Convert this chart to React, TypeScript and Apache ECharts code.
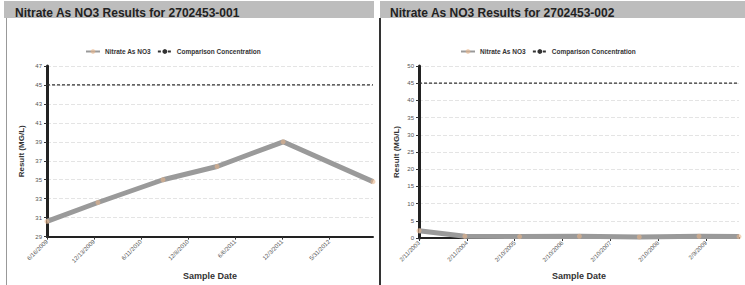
import React, { useEffect, useRef } from "react";
import * as echarts from "echarts";

const TITLE_LEFT = "Nitrate As NO3 Results for 2702453-001";
const TITLE_RIGHT = "Nitrate As NO3 Results for 2702453-002";
const SERIES_NAME = "Nitrate As NO3";
const COMPARE_NAME = "Comparison Concentration";
const COMPARISON_VALUE = 45;

const LEFT_DATES = ["2009-06-16", "2009-12-28", "2010-09-03", "2011-03-29", "2011-12-07", "2012-11-15"];
const LEFT_VALUES = [30.6, 32.6, 35.0, 36.4, 39.0, 34.8];
const LEFT_Y = { min: 29, max: 47, interval: 2 };
const LEFT_X_INTERVAL_DAYS = 180;

const RIGHT_DATES = ["2003-02-11", "2004-01-27", "2005-03-20", "2006-06-19", "2007-09-19", "2008-12-18", "2009-10-19"];
const RIGHT_VALUES = [2.1, 0.5, 0.4, 0.5, 0.3, 0.5, 0.4];
const RIGHT_Y = { min: 0, max: 50, interval: 5 };
const RIGHT_X_INTERVAL_DAYS = 365;

const DAY = 86400000;
const ts = (d: string) => Date.parse(d + "T00:00:00Z");
const fmtDate = (v: number) => {
  const d = new Date(v);
  return `${d.getUTCMonth() + 1}/${d.getUTCDate()}/${d.getUTCFullYear()}`;
};

const FONT = "Liberation Sans, Arial, sans-serif";

function xAxisFor(gridIndex: number, dates: string[], intervalDays: number) {
  return {
    type: "value",
    gridIndex,
    min: ts(dates[0]),
    max: ts(dates[dates.length - 1]),
    interval: intervalDays * DAY,
    name: "Sample Date",
    nameLocation: "middle",
    nameGap: 33,
    nameTextStyle: { fontFamily: FONT, fontWeight: "bold", fontSize: 9, color: "#333" },
    axisLine: { lineStyle: { color: "#222", width: 2 } },
    axisTick: { show: true, length: 3, lineStyle: { color: "#333" } },
    axisLabel: {
      rotate: 45,
      fontSize: 6,
      fontFamily: FONT,
      color: "#555",
      showMaxLabel: false,
      margin: 4,
      formatter: (v: number) => fmtDate(v),
    },
    splitLine: { show: false },
  };
}

function yAxisFor(gridIndex: number, cfg: { min: number; max: number; interval: number }, gap: number) {
  return {
    type: "value",
    gridIndex,
    min: cfg.min,
    max: cfg.max,
    interval: cfg.interval,
    name: "Result (MG/L)",
    nameLocation: "middle",
    nameGap: gap,
    nameTextStyle: { fontFamily: FONT, fontWeight: "bold", fontSize: 8, color: "#333" },
    axisLine: { show: true, lineStyle: { color: "#222", width: 3 } },
    axisTick: { show: true, length: 3, lineStyle: { color: "#333" } },
    axisLabel: { fontSize: 6, fontFamily: FONT, color: "#555", margin: 5 },
    splitLine: { show: true, lineStyle: { color: "#e4e4e4", type: "dashed", width: 1 } },
  };
}

export default function App() {
  const ref = useRef<HTMLDivElement>(null);
  useEffect(() => {
    if (!ref.current) return;
    const chart = echarts.init(ref.current, undefined, { renderer: "svg" });
    const lineSeries = (name: string, idx: number, dates: string[], values: number[]) => ({
      name,
      type: "line",
      xAxisIndex: idx,
      yAxisIndex: idx,
      data: dates.map((d, i) => [ts(d), values[i]]),
      lineStyle: { color: "#9a9a9a", width: 5 },
      itemStyle: { color: "#e8b58c", opacity: 0.6 },
      symbol: "circle",
      symbolSize: 5,
      z: 3,
    });
    const compSeries = (idx: number, dates: string[]) => ({
      name: COMPARE_NAME,
      type: "line",
      xAxisIndex: idx,
      yAxisIndex: idx,
      data: dates.map((d) => [ts(d), COMPARISON_VALUE]),
      showSymbol: false,
      symbol: "none",
      lineStyle: { color: "#333", width: 1.2, type: [3, 2] },
      itemStyle: { color: "#333" },
      z: 2,
    });
    chart.setOption({
      animation: false,
      backgroundColor: "#fff",
      graphic: [
        { type: "rect", shape: { x: 4, y: 1, width: 370, height: 17 }, style: { fill: "#bdbdbd" } },
        { type: "rect", shape: { x: 380, y: 1, width: 365, height: 17 }, style: { fill: "#bdbdbd" } },
        { type: "rect", shape: { x: 6, y: 18, width: 1, height: 267 }, style: { fill: "#999" } },
        { type: "rect", shape: { x: 379, y: 18, width: 2, height: 267 }, style: { fill: "#333" } },
        { type: "rect", shape: { x: 374, y: 0, width: 4, height: 285 }, style: { fill: "#fff" } },
      ],
      title: [
        { text: TITLE_LEFT, left: 10, top: 2, textStyle: { fontFamily: FONT, fontWeight: "bold", fontSize: 12, color: "#222" } },
        { text: TITLE_RIGHT, left: 385, top: 2, textStyle: { fontFamily: FONT, fontWeight: "bold", fontSize: 12, color: "#222" } },
      ],
      legend: [
        {
          left: 80,
          top: 43,
          itemWidth: 14,
          itemHeight: 6,
          itemGap: 6,
          textStyle: { fontFamily: FONT, fontSize: 6.5, fontWeight: "bold", color: "#333" },
          data: [{ name: SERIES_NAME }, { name: COMPARE_NAME }],
        },
        {
          left: 455,
          top: 43,
          itemWidth: 14,
          itemHeight: 6,
          itemGap: 6,
          textStyle: { fontFamily: FONT, fontSize: 6.5, fontWeight: "bold", color: "#333" },
          data: [{ name: SERIES_NAME }, { name: COMPARE_NAME }],
        },
      ],
      grid: [
        { left: 47, right: 372, top: 66, bottom: 42 },
        { left: 419, right: 6, top: 66, bottom: 45 },
      ],
      xAxis: [xAxisFor(0, LEFT_DATES, LEFT_X_INTERVAL_DAYS), xAxisFor(1, RIGHT_DATES, RIGHT_X_INTERVAL_DAYS)],
      yAxis: [yAxisFor(0, LEFT_Y, 22), yAxisFor(1, RIGHT_Y, 19)],
      series: [
        lineSeries(SERIES_NAME, 0, LEFT_DATES, LEFT_VALUES),
        compSeries(0, LEFT_DATES),
        lineSeries(SERIES_NAME, 1, RIGHT_DATES, RIGHT_VALUES),
        compSeries(1, RIGHT_DATES),
      ],
    });
    return () => chart.dispose();
  }, []);
  return <div ref={ref} style={{ position: "absolute", left: 0, top: 0, width: 745, height: 285 }} />;
}
